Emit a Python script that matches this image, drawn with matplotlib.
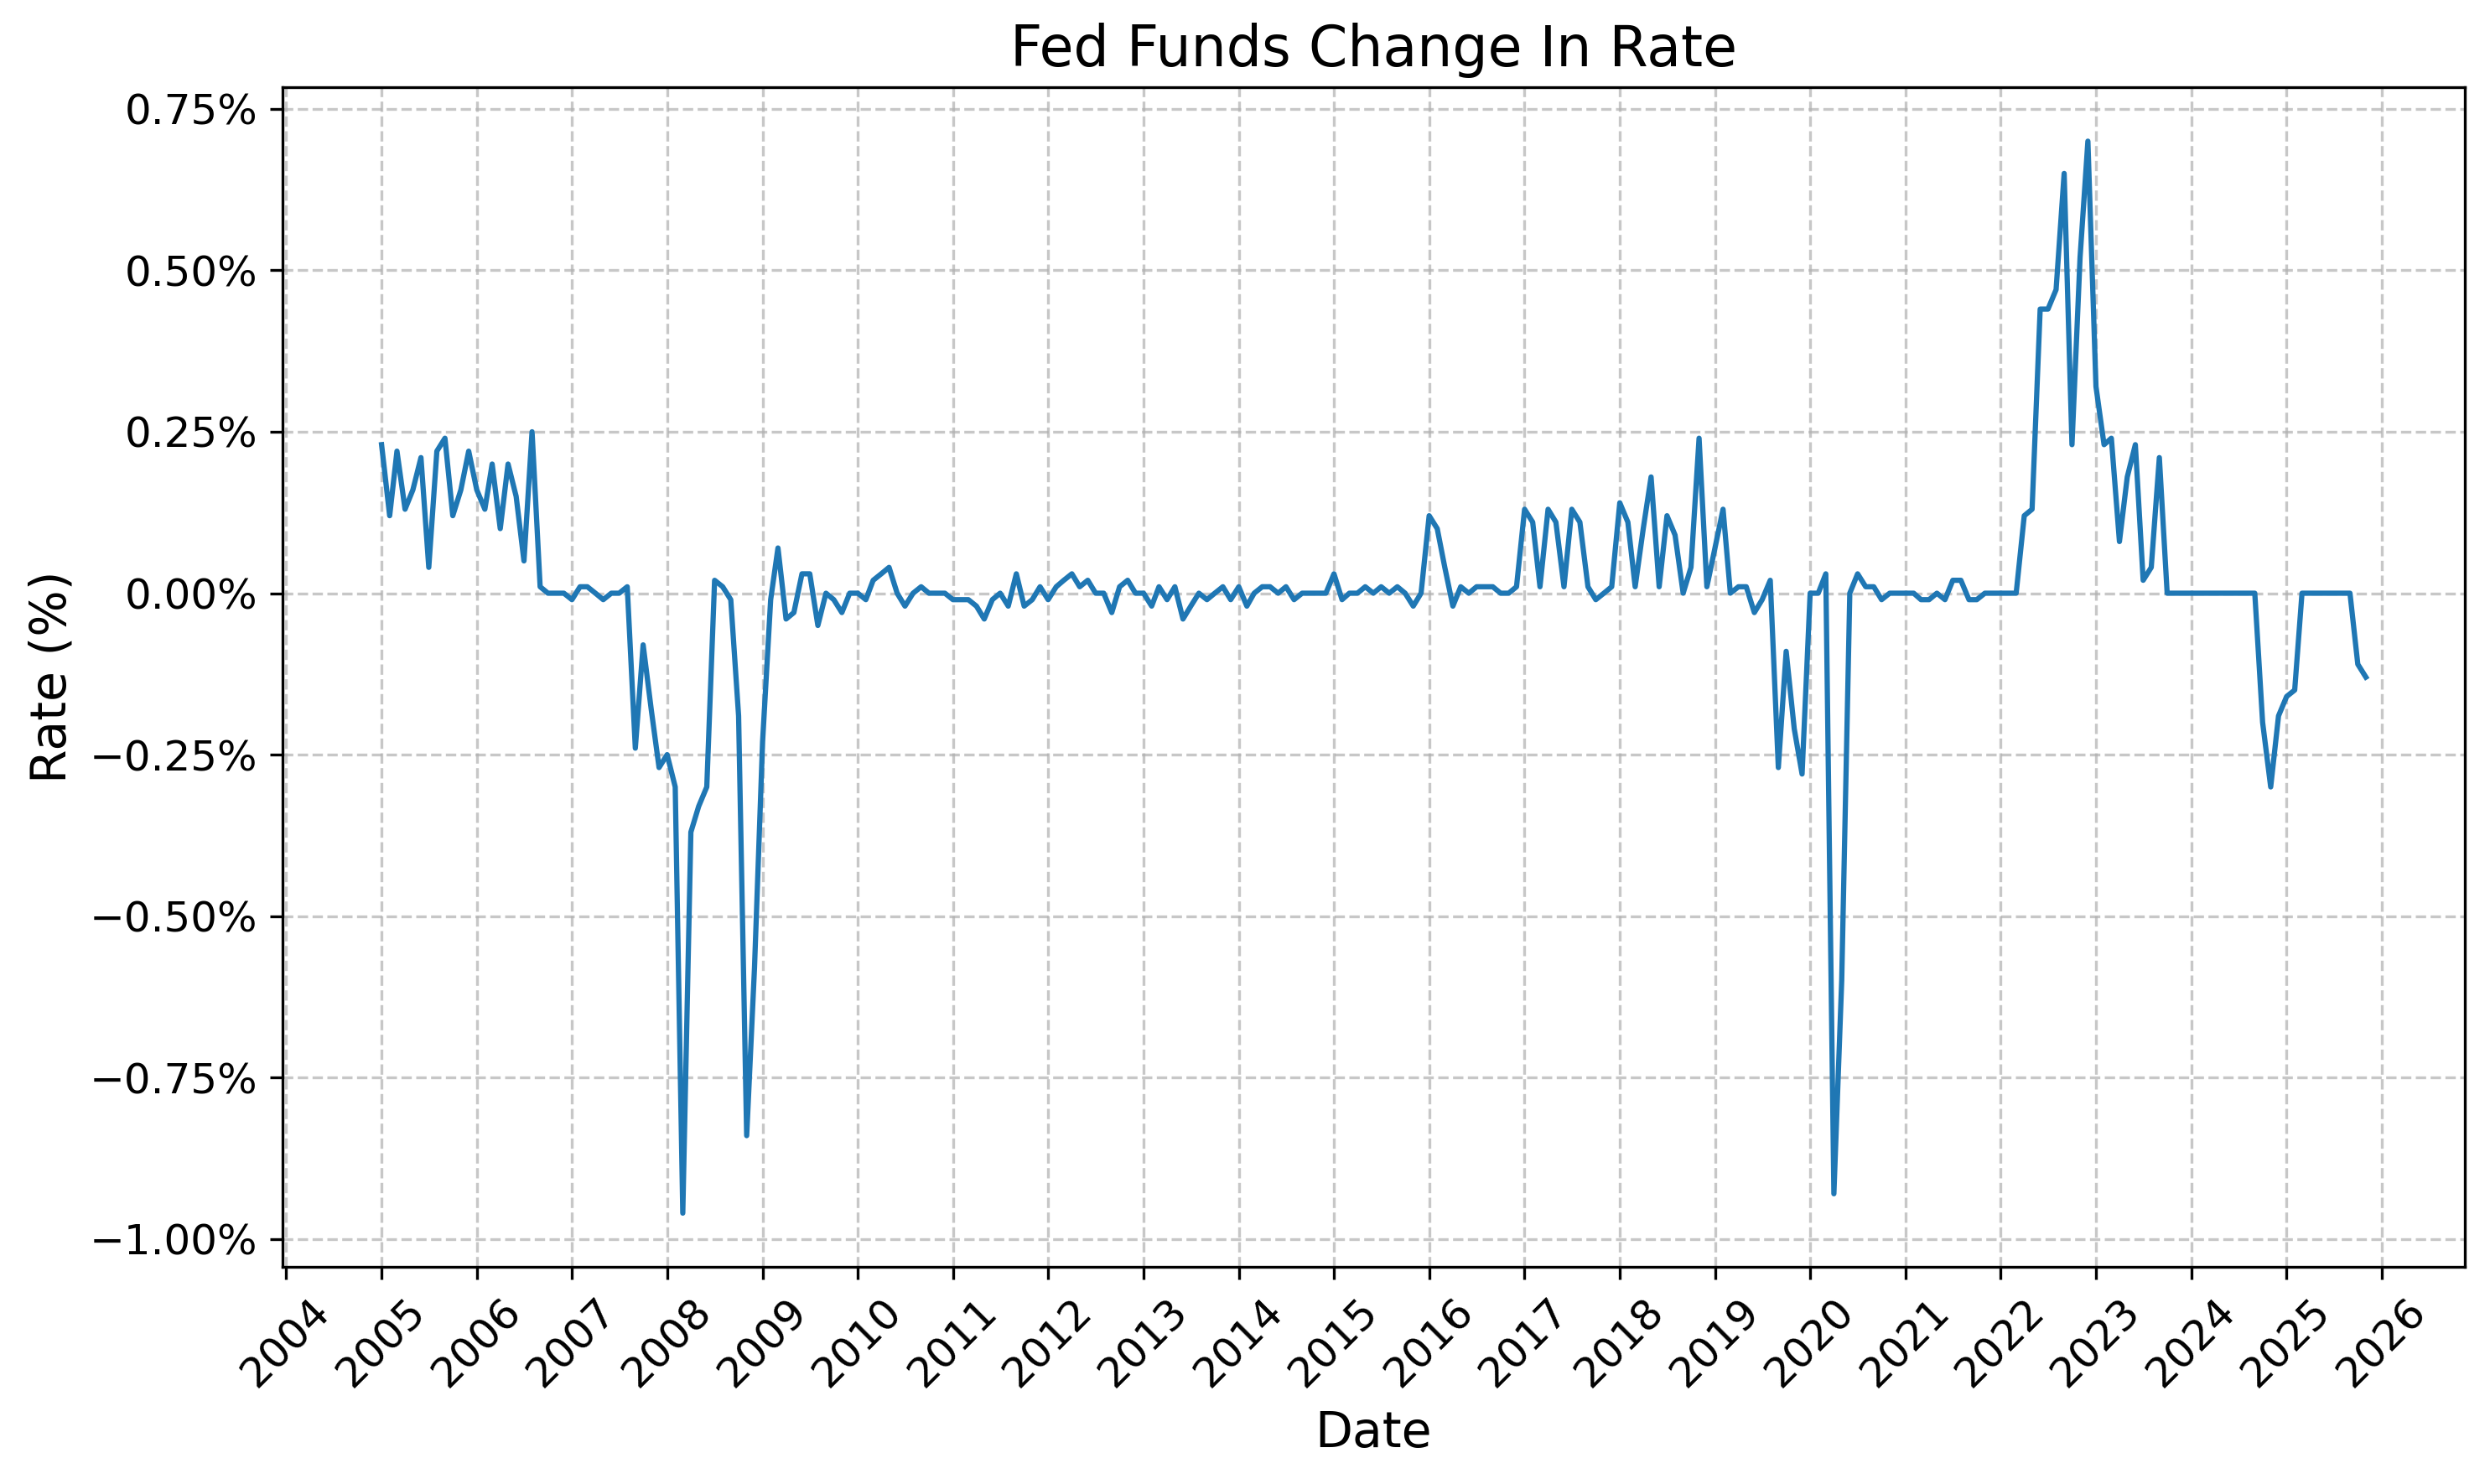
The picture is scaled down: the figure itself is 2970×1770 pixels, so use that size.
import matplotlib
matplotlib.use('Agg')
import matplotlib.pyplot as plt
import matplotlib.dates as mdates
from matplotlib.ticker import PercentFormatter
import pandas as pd

# monthly change in the fed funds rate (percentage points), Jan 2005 .. Nov 2025
y2005 = [0.23, 0.12, 0.22, 0.13, 0.16, 0.21, 0.04, 0.22, 0.24, 0.12, 0.16, 0.22]
y2006 = [0.16, 0.13, 0.20, 0.10, 0.20, 0.15, 0.05, 0.25, 0.01, 0.00, 0.00, 0.00]
y2007 = [-0.01, 0.01, 0.01, 0.00, -0.01, 0.00, 0.00, 0.01, -0.24, -0.08, -0.18, -0.27]
y2008 = [-0.25, -0.30, -0.96, -0.37, -0.33, -0.30, 0.02, 0.01, -0.01, -0.19, -0.84, -0.58]
y2009 = [-0.23, -0.01, 0.07, -0.04, -0.03, 0.03, 0.03, -0.05, 0.00, -0.01, -0.03, 0.00]
y2010 = [0.00, -0.01, 0.02, 0.03, 0.04, 0.00, -0.02, 0.00, 0.01, 0.00, 0.00, 0.00]
y2011 = [-0.01, -0.01, -0.01, -0.02, -0.04, -0.01, 0.00, -0.02, 0.03, -0.02, -0.01, 0.01]
y2012 = [-0.01, 0.01, 0.02, 0.03, 0.01, 0.02, 0.00, 0.00, -0.03, 0.01, 0.02, 0.00]
y2013 = [0.00, -0.02, 0.01, -0.01, 0.01, -0.04, -0.02, 0.00, -0.01, 0.00, 0.01, -0.01]
y2014 = [0.01, -0.02, 0.00, 0.01, 0.01, 0.00, 0.01, -0.01, 0.00, 0.00, 0.00, 0.00]
y2015 = [0.03, -0.01, 0.00, 0.00, 0.01, 0.00, 0.01, 0.00, 0.01, 0.00, -0.02, 0.00]
y2016 = [0.12, 0.10, 0.04, -0.02, 0.01, 0.00, 0.01, 0.01, 0.01, 0.00, 0.00, 0.01]
y2017 = [0.13, 0.11, 0.01, 0.13, 0.11, 0.01, 0.13, 0.11, 0.01, -0.01, 0.00, 0.01]
y2018 = [0.14, 0.11, 0.01, 0.10, 0.18, 0.01, 0.12, 0.09, 0.00, 0.04, 0.24, 0.01]
y2019 = [0.07, 0.13, 0.00, 0.01, 0.01, -0.03, -0.01, 0.02, -0.27, -0.09, -0.21, -0.28]
y2020 = [0.00, 0.00, 0.03, -0.93, -0.60, 0.00, 0.03, 0.01, 0.01, -0.01, 0.00, 0.00]
y2021 = [0.00, 0.00, -0.01, -0.01, 0.00, -0.01, 0.02, 0.02, -0.01, -0.01, 0.00, 0.00]
y2022 = [0.00, 0.00, 0.00, 0.12, 0.13, 0.44, 0.44, 0.47, 0.65, 0.23, 0.52, 0.70]
y2023 = [0.32, 0.23, 0.24, 0.08, 0.18, 0.23, 0.02, 0.04, 0.21, 0.00, 0.00, 0.00]
y2024 = [0.00, 0.00, 0.00, 0.00, 0.00, 0.00, 0.00, 0.00, 0.00, -0.20, -0.30, -0.19]
y2025 = [-0.16, -0.15, 0.00, 0.00, 0.00, 0.00, 0.00, 0.00, 0.00, -0.11, -0.13]

valores = (y2005 + y2006 + y2007 + y2008 + y2009 + y2010 + y2011 + y2012 + y2013
           + y2014 + y2015 + y2016 + y2017 + y2018 + y2019 + y2020 + y2021
           + y2022 + y2023 + y2024 + y2025)
datas = pd.date_range('2005-01-01', periods=len(valores), freq='MS')

fig = plt.figure(figsize=(9.9, 5.9), dpi=300)
ax = fig.add_subplot(111)
fig.subplots_adjust(left=0.1134, right=0.990, top=0.941, bottom=0.1464)

ax.plot(datas, valores, color='#1f77b4', linewidth=1.5)

ax.set_title('Fed Funds Change In Rate', fontsize=16)
ax.set_xlabel('Date', fontsize=14)
ax.set_ylabel('Rate (%)', fontsize=14)

ax.xaxis.set_major_locator(mdates.YearLocator())
ax.xaxis.set_major_formatter(mdates.DateFormatter('%Y'))
ax.yaxis.set_major_formatter(PercentFormatter(xmax=100, decimals=2))
plt.setp(ax.get_xticklabels(), rotation=45)
ax.tick_params(labelsize=12)

ax.grid(True, linestyle='--', alpha=0.7)

fig.savefig('out.png', dpi=300)
